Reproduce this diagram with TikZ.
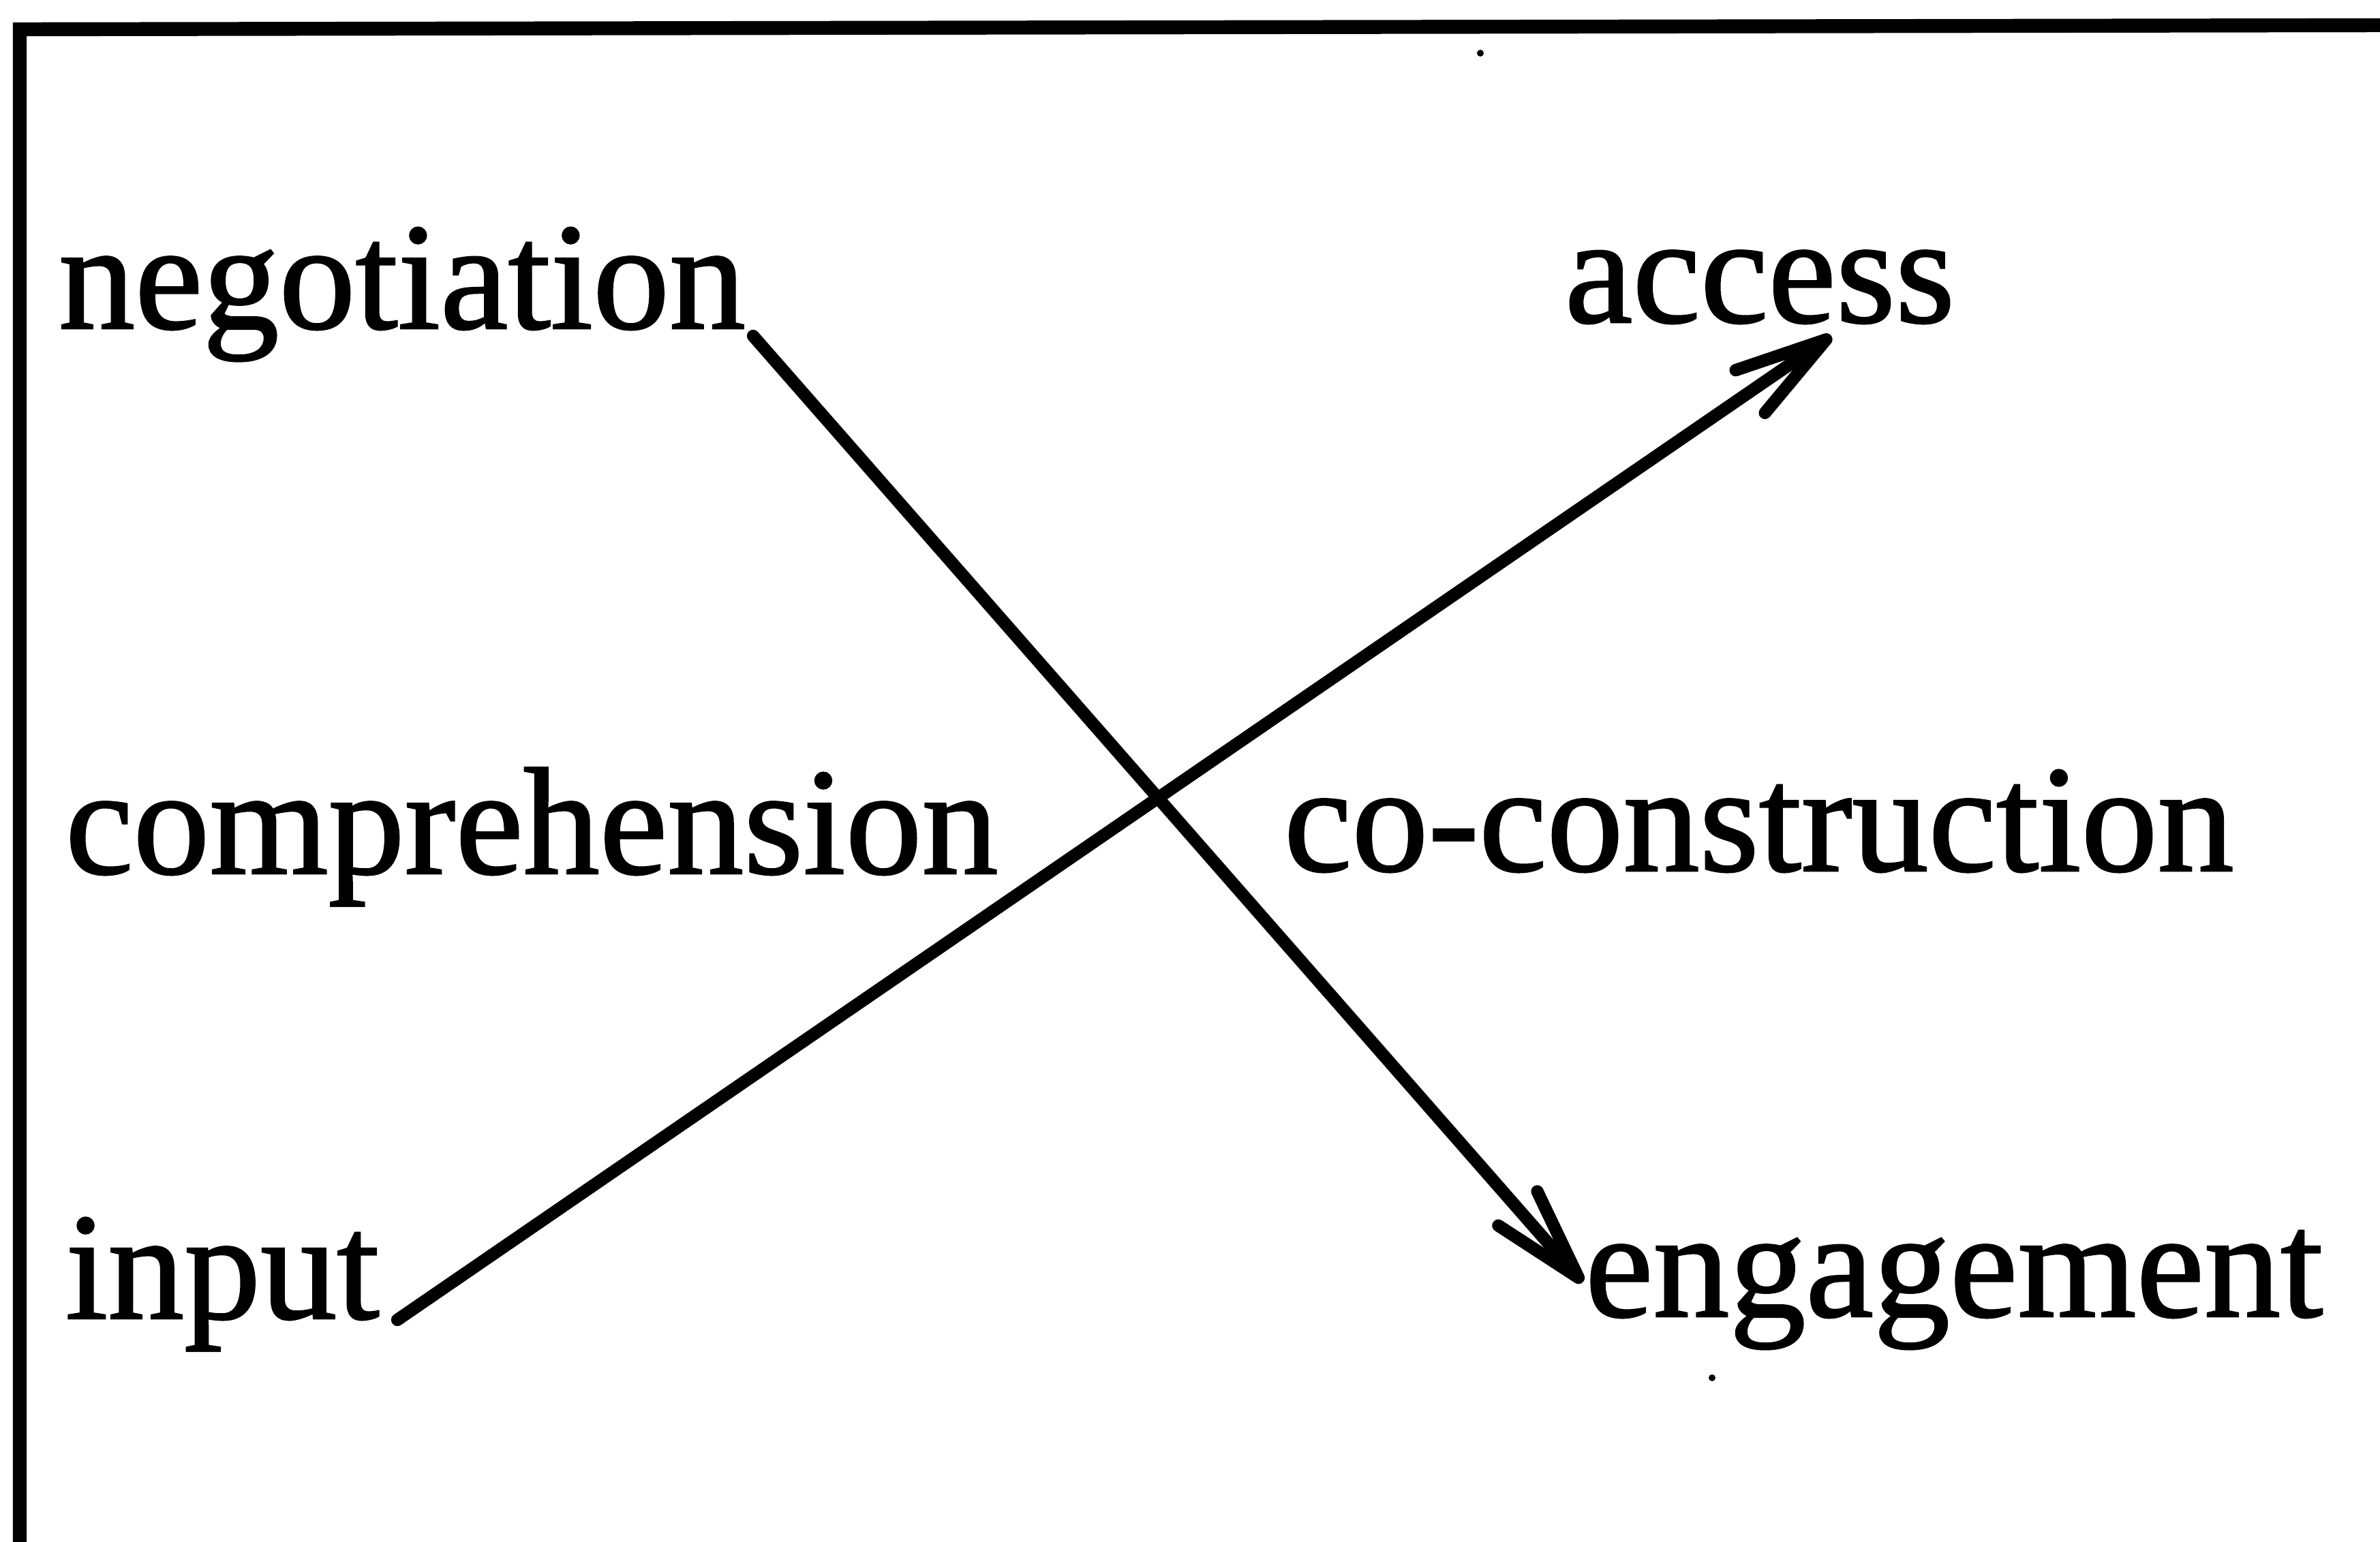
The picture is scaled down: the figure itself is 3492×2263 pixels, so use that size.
\documentclass[tikz,border=0pt]{standalone}
\usepackage{fontspec}
\setmainfont{Liberation Serif}
\newfontfamily\scanfont{Liberation Serif}[FakeBold=1.2]
\usetikzlibrary{arrows.meta}
\begin{document}
\begin{tikzpicture}[x=0.01cm,y=-0.01cm,
  lbl/.style={anchor=base west, inner sep=0pt, outer sep=0pt, font=\scanfont\fontsize{63.7}{70}\selectfont},
  conn/.style={line width=5.2pt, line cap=round, line join=round,
    -{Straight Barb[length=1.35cm, width=0.76cm, line width=5.2pt, round]}},
  frame/.style={line width=5.8pt}]
\useasboundingbox (0,0) rectangle (3492,2263);
% frame (only top and left edges visible)
\draw[frame] (29,2270) -- (29,43) -- (3500,37);
% labels
\node[lbl] (neg) at (86,482) {negotiation};
\node[lbl] (acc) at (2296,473) {access};
\node[lbl] (comp) at (96,1282) {comprehension};
\node[lbl] (cocon) at (1884,1278) {co-construction};
\node[lbl] (inp) at (96,1935) {input};
\node[lbl] (eng) at (2326,1932) {engagement};
% connector end points
\coordinate (inpEnd) at (583,1937);
\coordinate (accTip) at (2687,493);
\coordinate (negEnd) at (1105,493);
\coordinate (engTip) at (2322,1882);
% connectors
\draw[conn] (inpEnd) -- (accTip);
\draw[conn] (negEnd) -- (engTip);
% specks
\fill (2172,78) circle (5);
\fill (2512,2022) circle (5);
\end{tikzpicture}
\end{document}
